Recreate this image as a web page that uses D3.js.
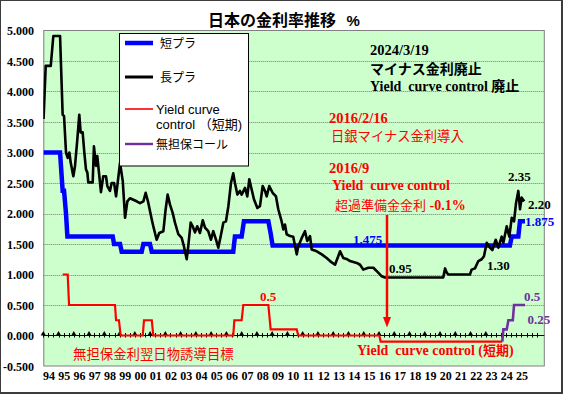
<!DOCTYPE html>
<html><head><meta charset="utf-8">
<script src="https://cdn.jsdelivr.net/npm/d3@7"></script>
<style>html,body{margin:0;padding:0;background:#fff;} svg{display:block}</style>
</head><body><svg id="c" width="563" height="394"></svg>
<script>
// ---------------- data ----------------
const yearTicks = [1994,1995,1996,1997,1998,1999,2000,2001,2002,2003,2004,2005,2006,2007,2008,2009,2010,2011,2012,2013,2014,2015,2016,2017,2018,2019,2020,2021,2022,2023,2024,2025];
const yearLabels = ["94","95","96","97","98","99","00","01","02","03","04","05","06","07","08","09","10","11","12","13","14","15","16","17","18","19","20","21","22","23","24","25"];
const yTickValues = [-0.5,0,0.5,1,1.5,2,2.5,3,3.5,4,4.5,5];

// 短プラ (short-term prime rate)
const shortPrime = [[1993.71,3.0],[1994.79,3.0],[1994.96,2.375],[1995.05,2.375],[1995.18,2.0],[1995.27,1.625],[1998.24,1.625],[1998.33,1.5],[1998.72,1.5],[1998.83,1.375],[2000.14,1.375],[2000.25,1.5],[2000.68,1.5],[2000.80,1.375],[2006.14,1.375],[2006.25,1.625],[2006.69,1.625],[2006.84,1.875],[2008.44,1.875],[2008.59,1.675],[2008.72,1.475],[2024.27,1.475],[2024.39,1.625],[2024.82,1.625],[2024.93,1.875],[2025.26,1.875]];

// 長プラ (long-term prime rate)
const longPrime = [[1993.71,3.55],[1993.85,4.42],[1994.18,4.42],[1994.35,4.91],[1994.79,4.91],[1994.96,3.62],[1995.05,3.60],[1995.18,3.00],[1995.29,2.91],[1995.40,3.00],[1995.49,2.83],[1995.66,2.61],[1995.77,2.78],[1995.92,3.21],[1996.05,3.62],[1996.14,3.33],[1996.27,3.33],[1996.38,3.00],[1996.49,2.72],[1996.58,2.67],[1996.64,2.51],[1996.93,2.51],[1997.01,3.10],[1997.15,2.78],[1997.23,2.94],[1997.32,2.72],[1997.47,2.35],[1997.62,2.61],[1997.80,2.61],[1997.89,2.45],[1998.06,2.37],[1998.17,2.50],[1998.33,2.50],[1998.46,2.28],[1998.72,2.83],[1998.90,2.53],[1999.05,1.93],[1999.20,2.20],[1999.37,2.25],[1999.81,2.20],[2000.03,2.17],[2000.25,2.20],[2000.40,2.34],[2000.55,2.20],[2000.80,1.90],[2000.90,1.79],[2001.12,1.57],[2001.29,1.68],[2001.56,1.71],[2001.71,2.07],[2001.84,2.31],[2001.99,2.15],[2002.17,2.01],[2002.32,1.85],[2002.54,1.66],[2002.76,1.60],[2002.91,1.46],[2003.09,1.25],[2003.19,1.46],[2003.35,1.85],[2003.48,1.79],[2003.63,1.69],[2003.78,1.79],[2003.96,1.68],[2004.14,1.89],[2004.29,1.77],[2004.50,1.71],[2004.68,1.57],[2004.83,1.71],[2005.01,1.57],[2005.16,1.44],[2005.32,1.63],[2005.49,1.85],[2005.66,1.87],[2005.82,2.12],[2005.99,2.50],[2006.14,2.66],[2006.25,2.50],[2006.41,2.31],[2006.58,2.37],[2006.69,2.31],[2006.91,2.42],[2007.06,2.28],[2007.19,2.56],[2007.35,2.39],[2007.50,2.23],[2007.72,2.09],[2007.89,2.12],[2008.07,2.45],[2008.22,2.37],[2008.33,2.28],[2008.50,2.45],[2008.72,2.34],[2008.94,2.28],[2009.09,2.07],[2009.31,1.87],[2009.42,1.74],[2009.53,1.82],[2009.64,1.66],[2009.86,1.63],[2010.07,1.62],[2010.30,1.33],[2010.40,1.46],[2010.63,1.60],[2010.84,1.71],[2010.99,1.55],[2011.17,1.63],[2011.28,1.41],[2011.61,1.38],[2011.94,1.33],[2012.26,1.27],[2012.48,1.22],[2012.81,1.16],[2013.14,1.38],[2013.35,1.27],[2013.61,1.25],[2013.79,1.22],[2014.23,1.19],[2014.45,1.16],[2014.66,1.08],[2014.99,1.11],[2015.32,1.11],[2015.64,1.03],[2015.87,0.97],[2016.08,0.95],[2019.90,0.95],[2020.02,1.10],[2020.13,1.03],[2020.23,1.00],[2021.65,1.00],[2021.76,1.08],[2021.98,1.10],[2022.20,1.22],[2022.42,1.25],[2022.57,1.30],[2022.75,1.52],[2022.96,1.44],[2023.12,1.40],[2023.34,1.57],[2023.51,1.44],[2023.73,1.62],[2023.84,1.52],[2024.06,1.79],[2024.23,1.62],[2024.39,1.93],[2024.54,1.87],[2024.67,2.17],[2024.82,2.37],[2024.93,2.07],[2025.04,2.26],[2025.21,2.20]];

// 無担保金利翌日物誘導目標 / Yield curve control (短期)
const shortPolicy = [[1994.96,1.0],[1995.29,1.0],[1995.38,0.5],[1998.39,0.5],[1998.46,0.25],[1998.65,0.25],[1998.76,0],[2000.21,0],[2000.29,0.25],[2000.80,0.25],[2000.90,0],[2006.14,0],[2006.21,0.25],[2006.69,0.25],[2006.80,0.5],[2008.44,0.5],[2008.59,0.1],[2010.30,0.1],[2010.40,0],[2015.71,0],[2015.80,-0.1],[2023.77,-0.1]];

// 無担保コール
const callRate = [[2023.77,-0.1],[2023.84,0.1],[2024.06,0.1],[2024.17,0.25],[2024.46,0.25],[2024.54,0.5],[2025.26,0.5]];

// ---------------- drawing ----------------
const SERIF = "'Liberation Serif','Times New Roman',serif";
const GOTH = "'Noto Sans CJK JP','Noto Sans CJK SC',sans-serif";
const SANS = "'Liberation Sans',Arial,sans-serif";

const svg = d3.select("#c");
const W = 563, H = 394;
const P = {l:43.3, r:544.3, t:30.5, b:366};

const x = d3.scaleLinear().domain([1993.692, 2026.523]).range([P.l, P.r]);
const y = d3.scaleLinear().domain([-0.5, 5]).range([P.b, P.t]);

// outer frame
svg.append("rect").attr("x",0).attr("y",0).attr("width",W).attr("height",H).attr("fill","#3c3c3c");
svg.append("rect").attr("x",1).attr("y",1).attr("width",560).attr("height",391).attr("fill","#ffffff");

// plot area
svg.append("rect").attr("x",P.l).attr("y",P.t).attr("width",P.r-P.l).attr("height",P.b-P.t)
  .attr("fill","#ccffcc");

// gridlines
svg.append("g").selectAll("line").data(yTickValues.filter(v => v!==0 && v!==-0.5 && v!==5)).join("line")
  .attr("x1",P.l).attr("x2",P.r).attr("y1",d=>Math.round(y(d))+0.5).attr("y2",d=>Math.round(y(d))+0.5)
  .attr("stroke","#7a7a7a").attr("stroke-width",1).attr("stroke-dasharray","1,1");

// plot border
svg.append("rect").attr("x",P.l+0.5).attr("y",P.t).attr("width",P.r-P.l-0.5).attr("height",P.b-P.t)
  .attr("fill","none").attr("stroke","#808080").attr("stroke-width",1);

// y axis labels
svg.append("g").selectAll("text").data(yTickValues).join("text")
  .attr("x",34).attr("y",d=>y(d)+4.5).attr("text-anchor","end")
  .attr("font-family",SERIF).attr("font-weight","bold").attr("font-size",12).attr("fill","#000")
  .text(d=>d.toFixed(3));

// x axis labels
svg.append("g").selectAll("text").data(yearTicks).join("text")
  .attr("x",(d)=>x(d)+1).attr("y",380).attr("text-anchor","middle")
  .attr("font-family",SERIF).attr("font-weight","bold").attr("font-size",12).attr("fill","#000")
  .text((d,i)=>yearLabels[i]);

// zero axis line
const y0 = Math.round(y(0))+0.5;
svg.append("line").attr("x1",P.l).attr("x2",P.r).attr("y1",y0).attr("y2",y0).attr("stroke","#000").attr("stroke-width",1);

// minor ticks (every 1/3 year) and triangle markers (each year)
const minorTicks = d3.range(0, 98).map(i => 1993.692 + i/3).filter(t => x(t) <= 539);
svg.append("g").selectAll("line").data(minorTicks).join("line")
  .attr("x1",d=>Math.round(x(d))+0.5).attr("x2",d=>Math.round(x(d))+0.5)
  .attr("y1",y0-2.5).attr("y2",y0+2)
  .attr("stroke","#000").attr("stroke-width",1);
const triTicks = d3.range(0, 30).map(i => 1993.69 + i);
svg.append("g").selectAll("path").data(triTicks).join("path")
  .attr("d",d=>{const cx=x(d); return `M${cx-2.6},${y0} L${cx+2.6},${y0} L${cx},${y0-4.5} Z`;})
  .attr("fill","#000");

// clip
svg.append("clipPath").attr("id","clip").append("rect")
  .attr("x",P.l).attr("y",P.t-5).attr("width",P.r-P.l).attr("height",P.b-P.t+5);

const line = d3.line().x(d=>x(d[0])).y(d=>y(d[1]));
const g = svg.append("g").attr("clip-path","url(#clip)");
g.append("path").datum(shortPrime).attr("d",line).attr("fill","none")
  .attr("stroke","#0000ff").attr("stroke-width",4.5).attr("stroke-linejoin","miter");
g.append("path").datum(longPrime).attr("d",line).attr("fill","none")
  .attr("stroke","#000").attr("stroke-width",2.6).attr("stroke-linejoin","round");
g.append("path").datum(shortPolicy).attr("d",line).attr("fill","none")
  .attr("stroke","#ff0000").attr("stroke-width",2.2);
g.append("path").datum(callRate).attr("d",line).attr("fill","none")
  .attr("stroke","#7030a0").attr("stroke-width",2.6);

// legend
const lg = svg.append("g");
lg.append("rect").attr("x",119.5).attr("y",33.5).attr("width",129).attr("height",132.5)
  .attr("fill","#fff").attr("stroke","#000").attr("stroke-width",1);
const legendItems = [
  {yy:43, color:"#0000ff", w:4.5, lines:["短プラ"], ty:[47.5], font:GOTH, fs:12},
  {yy:77, color:"#000", w:3, lines:["長プラ"], ty:[81.5], font:GOTH, fs:12},
  {yy:109, color:"#ff0000", w:1.6, lines:["Yield curve","control （短期)"], ty:[113.5,128.5], font:SANS+","+GOTH, fs:13},
  {yy:144, color:"#7030a0", w:2.4, lines:["無担保コール"], ty:[148.5], font:GOTH, fs:12}
];
legendItems.forEach(it=>{
  lg.append("line").attr("x1",125).attr("x2",153).attr("y1",it.yy).attr("y2",it.yy)
    .attr("stroke",it.color).attr("stroke-width",it.w);
  it.lines.forEach((s,i)=>{
    lg.append("text").attr("x",156).attr("y",it.ty[i]).attr("font-family",it.font)
      .attr("font-size",it.fs).attr("fill","#000").text(s);
  });
});
// fix spacing of first two legend labels (they start a bit to the right)
lg.selectAll("text").filter((d,i)=>i<2).attr("x",160);

// title
svg.append("text").attr("x",208).attr("y",25.5).attr("font-family",GOTH).attr("font-weight","bold")
  .attr("font-size",16).attr("fill","#000").text("日本の金利率推移");
svg.append("text").attr("x",346.5).attr("y",25.5).attr("font-family",SANS).attr("font-weight","bold")
  .attr("font-size",15).attr("fill","#000").text("%");

// annotations
function txt(xx, yy, s, opt){
  const t = svg.append("text").attr("x",xx).attr("y",yy)
    .attr("font-family",opt.font||SERIF).attr("font-weight",opt.weight||"bold")
    .attr("font-size",opt.size||14).attr("fill",opt.color||"#000");
  if(opt.anchor) t.attr("text-anchor",opt.anchor);
  if(opt.ls) t.attr("letter-spacing",opt.ls);
  t.text(s);
  return t;
}
txt(370,55,"2024/3/19",{size:14.5});
txt(370,73.5,"マイナス金利廃止",{font:GOTH,size:14});
const yc = txt(370,90.5,"Yield  curve control ",{size:14});
yc.attr("xml:space","preserve").style("white-space","pre");
yc.append("tspan").attr("font-family",GOTH).text("廃止");

txt(329,122.5,"2016/2/16",{size:14.5,color:"#ff0000"});
txt(331,141,"日銀マイナス金利導入",{font:GOTH,weight:"normal",size:13.3,color:"#ff0000"});
txt(329,173,"2016/9",{size:14.5,color:"#ff0000"});
txt(332,189.5,"Yield  curve control",{size:14,color:"#ff0000"}).style("white-space","pre");
const ex = txt(335,210,"超過準備金金利",{font:GOTH,weight:"normal",size:13,color:"#ff0000"});
ex.append("tspan").attr("font-family",SERIF).attr("font-weight","bold").attr("font-size",14).text(" -0.1%");

// arrow
svg.append("line").attr("x1",387).attr("x2",387).attr("y1",215).attr("y2",319)
  .attr("stroke","#ff0000").attr("stroke-width",2.5);
svg.append("path").attr("d","M383,317 L391,317 L387,327.5 Z").attr("fill","#ff0000");

txt(508,181,"2.35",{size:13});
txt(528,208.5,"2.20",{size:13});
txt(525,226,"1.875",{size:13,color:"#0000ff"});
txt(353,243.5,"1.475",{size:13,color:"#0000ff"});
txt(389,272.5,"0.95",{size:13});
txt(487,270,"1.30",{size:13});
txt(524,301,"0.5",{size:13,color:"#7030a0"});
txt(527.5,324,"0.25",{size:13,color:"#7030a0"});
txt(260,301,"0.5",{size:13,color:"#ff0000"});
txt(73,359,"無担保金利翌日物誘導目標",{font:GOTH,weight:"normal",size:13.4,color:"#ff0000"});
const yb = txt(357,354.5,"Yield  curve control ",{size:14,color:"#ff0000"});
yb.style("white-space","pre");
yb.append("tspan").text("(");
yb.append("tspan").attr("font-family",GOTH).attr("font-size",13).text("短期");
yb.append("tspan").text(")");
</script></body></html>
